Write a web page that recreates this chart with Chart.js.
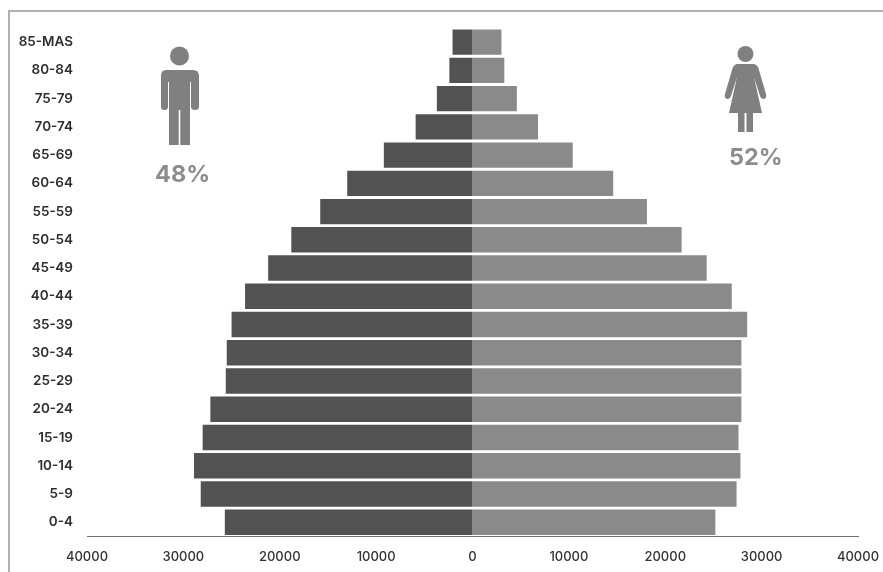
<!DOCTYPE html>
<html>
<head>
<meta charset="utf-8">
<style>
  html, body { margin: 0; padding: 0; background: #fff; }
  #wrap { position: relative; width: 883px; height: 572px; overflow: hidden; }
  #frame { position: absolute; left: 8px; top: 10px; width: 890px; height: 600px; border: 2px solid #b0b0b0; box-sizing: border-box; }
  canvas { position: absolute; left: 0; top: 0; }
  .pct { position: absolute; font-family: Inter, sans-serif; font-weight: 700; font-size: 23.5px; letter-spacing: 0; color: #8c8c8c; }
  .figure { position: absolute; fill: #808080; }
</style>
</head>
<body>
<div id="wrap">
  <div id="frame"></div>
  <canvas id="pyramid" width="883" height="572"></canvas>

  <svg class="figure" style="left:158px;top:44px" width="44" height="102" viewBox="0 0 44 102">
    <circle cx="21.5" cy="12" r="9.5"/>
    <path d="M8 26 H35 Q41 26 41 32 V63 Q41 66 37 66 Q33 66 33 63 V38 H32 V101 H22.300 V66 H20.700 V101 H11 V38 H10 V63 Q10 66 6.500 66 Q3 66 3 63 V32 Q3 26 8 26 Z"/>
  </svg>
  <div class="pct" style="left:155px;top:159px">48%</div>

  <svg class="figure" style="left:722px;top:44px" width="46" height="90" viewBox="0 0 46 90">
    <circle cx="23.500" cy="10" r="8"/>
    <path d="M15 20 H32 Q36 21 37 26 L44 50 Q45 54 42 55 Q39 55 38 52 L32 33 L40 69 H31 V88 H24.500 V69 H22.500 V88 H16 V69 H7 L15 33 L9 52 Q8 55 5 55 Q2 54 3 50 L10 26 Q11 21 15 20 Z"/>
  </svg>
  <div class="pct" style="left:729px;top:142px">52%</div>
</div>

<script src="https://cdn.jsdelivr.net/npm/chart.js@4"></script>
<script>
// Age groups, oldest at the top
const ageGroups = ['85-MAS', '80-84', '75-79', '70-74', '65-69', '60-64', '55-59', '50-54', '45-49',
  '40-44', '35-39', '30-34', '25-29', '20-24', '15-19', '10-14', '5-9', '0-4'];

const men = [2070, 2400, 3700, 5900, 9200, 13000, 15800, 18800, 21200,
  23600, 25000, 25500, 25600, 27200, 28000, 28900, 28200, 25700];

const women = [3000, 3300, 4600, 6800, 10400, 14600, 18100, 21700, 24300,
  26900, 28500, 27900, 27900, 27900, 27600, 27800, 27400, 25200];

const xTicks = [-40000, -30000, -20000, -10000, 0, 10000, 20000, 30000, 40000];

new Chart(document.getElementById('pyramid'), {
  type: 'bar',
  data: {
    labels: ageGroups,
    datasets: [
      { label: 'Hombres', data: men.map(v => -v), backgroundColor: '#525252' },
      { label: 'Mujeres', data: women, backgroundColor: '#8a8a8a' }
    ]
  },
  options: {
    indexAxis: 'y',
    responsive: false,
    animation: false,
    layout: { padding: { left: 0, right: 25, top: 28, bottom: 2 } },
    plugins: { legend: { display: false }, tooltip: { enabled: false } },
    datasets: { bar: { barPercentage: 0.9, categoryPercentage: 1 } },
    scales: {
      x: {
        stacked: true,
        min: -40000,
        max: 40000,
        afterBuildTicks: axis => { axis.ticks = xTicks.map(value => ({ value })); },
        // let the end labels hang past the axis line
        afterFit: axis => { axis.paddingLeft = 0; axis.paddingRight = 0; },
        grid: { display: false },
        border: { color: '#707070', width: 1 },
        ticks: {
          color: '#333333',
          font: { family: 'Inter', size: 13, weight: '500' },
          maxRotation: 0,
          autoSkip: false,
          padding: 5,
          callback: v => Math.abs(v)
        }
      },
      y: {
        stacked: true,
        afterFit: axis => { axis.width = 87; },
        grid: { display: false },
        border: { display: false },
        ticks: {
          color: '#2e2e2e',
          font: { family: 'Inter', size: 13.5, weight: '600' },
          autoSkip: false,
          padding: 6
        }
      }
    }
  }
});
</script>
</body>
</html>
